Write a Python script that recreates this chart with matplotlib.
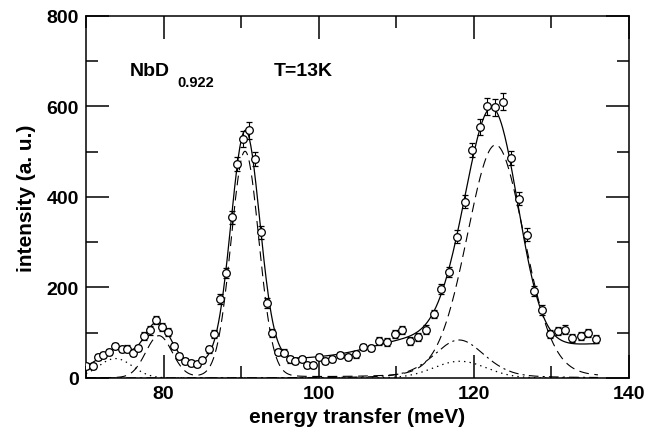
import numpy as np
import matplotlib
matplotlib.use("Agg")
import matplotlib.pyplot as plt

plt.rcParams['font.family'] = ['Liberation Sans', 'DejaVu Sans']
plt.rcParams['font.weight'] = 'bold'
plt.rcParams['lines.scale_dashes'] = False

# measured spectrum, NbD0.922 at 13 K
energy = [70.0, 70.86, 71.6, 72.2, 73.0, 73.8, 74.6, 75.3, 76.1, 76.7,
          77.5, 78.3, 79.0, 79.8, 80.6, 81.3, 82.0, 82.8, 83.5, 84.3,
          85.0, 85.8, 86.5, 87.3, 88.0, 88.8, 89.5, 90.3, 91.05, 91.8,
          92.6, 93.3, 94.0, 94.8, 95.5, 96.3, 97.0, 97.8, 98.5, 99.3,
          100.0, 100.8, 101.75, 102.7, 103.8, 104.8, 105.7, 106.7, 107.8, 108.75,
          109.8, 110.8, 111.8, 112.8, 113.8, 114.8, 115.8, 116.8, 117.8, 118.8,
          119.8, 120.8, 121.7, 122.7, 123.8, 124.8, 125.8, 126.8, 127.8, 128.8,
          129.8, 130.8, 131.7, 132.7, 133.8, 134.75, 135.75]
intensity = [27, 26, 46, 51, 57, 70, 64, 65, 55, 67,
             92, 105, 129, 112, 102, 70, 49, 38, 33, 31,
             40, 63, 97, 175, 232, 355, 473, 528, 547, 484,
             322, 166, 99, 58, 56, 41, 37, 42, 29, 29,
             47, 38, 42, 51, 47, 52, 68, 66, 82, 80,
             97, 106, 81, 91, 107, 141, 197, 234, 312, 390,
             504, 554, 600, 598, 611, 486, 396, 317, 192, 150,
             97, 103, 107, 88, 93, 99, 86]
errors = [7, 7, 7, 7, 7, 7, 7, 7, 7, 7,
          9, 9, 9, 9, 9, 7, 7, 7, 7, 7,
          7, 7, 9, 11, 11, 14, 16, 18, 18, 16,
          14, 11, 9, 7, 7, 7, 7, 7, 7, 7,
          7, 7, 7, 7, 7, 7, 7, 7, 9, 9,
          9, 9, 9, 9, 9, 9, 11, 11, 14, 14,
          16, 18, 18, 18, 18, 16, 14, 14, 11, 11,
          9, 9, 9, 9, 9, 9, 9]

# total fit: peaks + background
fit_centers = [73.8, 79.2, 90.55, 112.0, 119.0, 122.8]
fit_amps = [40, 95, 510, 30, 120, 470]
fit_widths = [2.0, 1.7, 1.85, 5.0, 3.0, 3.1]
bg_start, bg_slope = 20.0, 0.85

# components: (centre, amplitude, gaussian sigma, lorentz fraction)
dashed_centers = [79.4, 90.5, 122.8]
dashed_amps = [92, 500, 515]
dashed_widths = [1.7, 1.8, 3.7]
dashed_eta = [0.0, 0.05, 0.12]

dashdot_centers = [118.1]
dashdot_amps = [84]
dashdot_widths = [3.3]
dashdot_eta = [0.3]

dotted_centers = [73.8, 118.2]
dotted_amps = [43, 37]
dotted_widths = [2.2, 3.4]
dotted_eta = [0.0, 0.0]


def pvoigt(x, c, a, s, eta=0.0):
    g = np.exp(-(x - c) ** 2 / (2 * s ** 2))
    gam = 1.1774 * s
    l = 1.0 / (1.0 + ((x - c) / gam) ** 2)
    return a * ((1 - eta) * g + eta * l)


def curve(x, cs, amps, ws, etas=None):
    if etas is None:
        etas = [0.0] * len(cs)
    y = np.zeros_like(x)
    for c, a, s, e in zip(cs, amps, ws, etas):
        y += pvoigt(x, c, a, s, e)
    return y


xs = np.linspace(70, 136, 700)
total = curve(xs, fit_centers, fit_amps, fit_widths) + bg_start + bg_slope * (xs - 70)

fig = plt.figure(figsize=(6.48, 4.39), dpi=100)
ax = fig.add_axes([0.1327, 0.1367, 0.838, 0.8246])

ax.plot(xs, total, color='black', lw=0.9)
ax.plot(xs, curve(xs, dashed_centers, dashed_amps, dashed_widths, dashed_eta),
        color='black', lw=0.8, ls=(0, (7, 4)))
ax.plot(xs, curve(xs, dashdot_centers, dashdot_amps, dashdot_widths, dashdot_eta),
        color='black', lw=0.8, ls=(0, (7, 3, 1.5, 3)))
ax.plot(xs, curve(xs, dotted_centers, dotted_amps, dotted_widths, dotted_eta),
        color='black', lw=0.9, ls=(0, (1, 3)))

ax.errorbar(energy, intensity, yerr=errors, fmt='o', ms=5.5, mfc='white',
            mec='black', mew=0.9, ecolor='black', elinewidth=0.8, capsize=2.5,
            capthick=0.8, zorder=3)

ax.set_xlim(70, 140)
ax.set_ylim(0, 800)
ax.set_xticks([80, 100, 120, 140])
ax.set_xticks([70, 90, 110, 130], minor=True)
ax.set_yticks([0, 200, 400, 600, 800])
ax.set_yticks([100, 300, 500, 700], minor=True)
ax.tick_params(which='both', direction='in', top=True, right=True, width=1.1,
               labelsize=14, pad=5)
ax.tick_params(which='major', length=16.5)
ax.tick_params(which='minor', length=8.6)
for sp in ax.spines.values():
    sp.set_linewidth(1.1)

ax.set_xlabel('energy transfer (meV)', fontsize=15, fontweight='bold', labelpad=4)
ax.set_ylabel('intensity (a. u.)', fontsize=15, fontweight='bold', labelpad=8)

ax.text(75.7, 670, 'NbD', fontsize=14, fontweight='bold')
ax.text(81.8, 645, '0.922', fontsize=10.5, fontweight='bold')
ax.text(94.2, 670, 'T=13K', fontsize=14, fontweight='bold')

fig.savefig('out.png', dpi=100)
